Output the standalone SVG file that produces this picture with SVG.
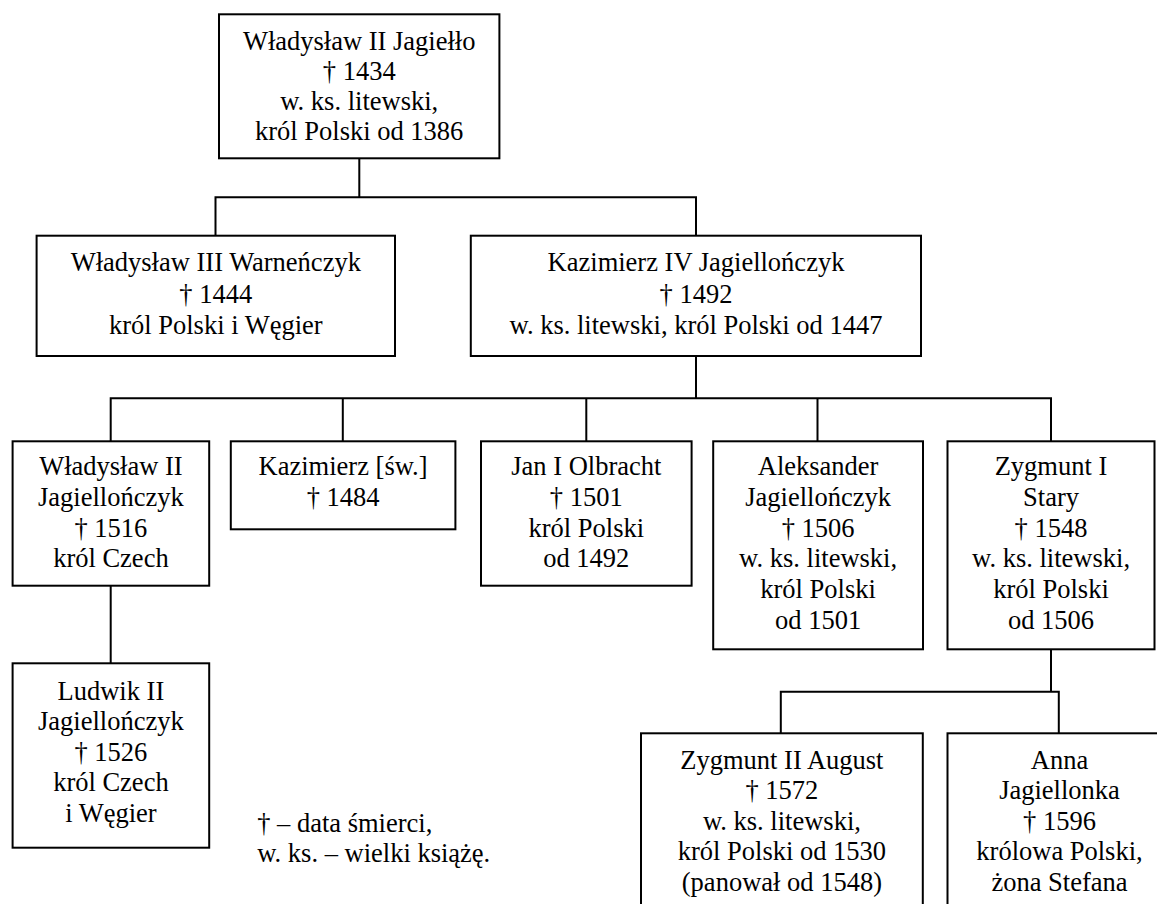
<svg xmlns="http://www.w3.org/2000/svg" width="1157" height="904" viewBox="0 0 1157 904">
<style>
.box{fill:#fff;stroke:#000;stroke-width:2}
.ln{fill:none;stroke:#000;stroke-width:2}
text{font-family:"Liberation Serif","Times New Roman",serif;font-size:26.5px;fill:#000;text-anchor:middle}
.lg{text-anchor:start}
</style>
<rect width="1157" height="904" fill="#fff"/>
<g id="connectors">
<path class="ln" d="M359.3,158.3V197.3M215.5,235.7V197.3H696V235.7"/>
<path class="ln" d="M696,356V398.3M110.7,441.3V398.3H1051V441.3M342.8,398.3V441.3M586.3,398.3V441.3M817.5,398.3V441.3"/>
<path class="ln" d="M110.7,585.7V663.3"/>
<path class="ln" d="M1051,649.3V691.7M780.8,733.3V691.7H1058.8V733.3"/>
</g>
<g id="n-jagiello">
<rect class="box" x="219" y="14.3" width="280.4" height="144"/>
<text x="359.2" y="50">Władysław II Jagiełło</text>
<text x="359.2" y="80">† 1434</text>
<text x="359.2" y="110">w. ks. litewski,</text>
<text x="359.2" y="140">król Polski od 1386</text>
</g>
<g id="n-warnenczyk">
<rect class="box" x="36.6" y="235.7" width="358.4" height="120.3"/>
<text x="215.8" y="270.7">Władysław III Warneńczyk</text>
<text x="215.8" y="302.5">† 1444</text>
<text x="215.8" y="334">król Polski i Węgier</text>
</g>
<g id="n-kazimierz4">
<rect class="box" x="470.8" y="235.7" width="450.2" height="120.3"/>
<text x="696" y="270.7">Kazimierz IV Jagiellończyk</text>
<text x="696" y="302.5">† 1492</text>
<text x="696" y="334">w. ks. litewski, król Polski od 1447</text>
</g>
<g id="n-wladyslaw2j">
<rect class="box" x="12.6" y="441.3" width="196.6" height="144.4"/>
<text x="110.9" y="475">Władysław II</text>
<text x="110.9" y="505.8">Jagiellończyk</text>
<text x="110.9" y="536.6">† 1516</text>
<text x="110.9" y="567.4">król Czech</text>
</g>
<g id="n-kazimierz-sw">
<rect class="box" x="230.8" y="441.3" width="224.6" height="88"/>
<text x="343.1" y="475">Kazimierz [św.]</text>
<text x="343.1" y="505.8">† 1484</text>
</g>
<g id="n-jan-olbracht">
<rect class="box" x="481" y="441.3" width="210.6" height="144.4"/>
<text x="586.3" y="475">Jan I Olbracht</text>
<text x="586.3" y="505.8">† 1501</text>
<text x="586.3" y="536.6">król Polski</text>
<text x="586.3" y="567.4">od 1492</text>
</g>
<g id="n-aleksander">
<rect class="box" x="713.2" y="441.3" width="209.8" height="208"/>
<text x="818.1" y="475">Aleksander</text>
<text x="818.1" y="505.8">Jagiellończyk</text>
<text x="818.1" y="536.6">† 1506</text>
<text x="818.1" y="567.4">w. ks. litewski,</text>
<text x="818.1" y="598.2">król Polski</text>
<text x="818.1" y="629">od 1501</text>
</g>
<g id="n-zygmunt1">
<rect class="box" x="947.5" y="441.3" width="207" height="208"/>
<text x="1051" y="475">Zygmunt I</text>
<text x="1051" y="505.8">Stary</text>
<text x="1051" y="536.6">† 1548</text>
<text x="1051" y="567.4">w. ks. litewski,</text>
<text x="1051" y="598.2">król Polski</text>
<text x="1051" y="629">od 1506</text>
</g>
<g id="n-ludwik">
<rect class="box" x="12.6" y="663.3" width="196.6" height="184.4"/>
<text x="110.9" y="699.5">Ludwik II</text>
<text x="110.9" y="730">Jagiellończyk</text>
<text x="110.9" y="760.5">† 1526</text>
<text x="110.9" y="791">król Czech</text>
<text x="110.9" y="821.5">i Węgier</text>
</g>
<g id="n-zygmunt2">
<rect class="box" x="641" y="733.3" width="281.8" height="200"/>
<text x="781.9" y="768.5">Zygmunt II August</text>
<text x="781.9" y="799">† 1572</text>
<text x="781.9" y="829.5">w. ks. litewski,</text>
<text x="781.9" y="860">król Polski od 1530</text>
<text x="781.9" y="890.5">(panował od 1548)</text>
</g>
<g id="n-anna">
<rect class="box" x="947.5" y="733.3" width="224" height="200"/>
<text x="1059.5" y="768.5">Anna</text>
<text x="1059.5" y="799">Jagiellonka</text>
<text x="1059.5" y="829.5">† 1596</text>
<text x="1059.5" y="860">królowa Polski,</text>
<text x="1059.5" y="890.5">żona Stefana</text>
</g>
<g id="legend">
<text class="lg" x="257.2" y="831.7">† – data śmierci,</text>
<text class="lg" x="257.2" y="861.7">w. ks. – wielki książę.</text>
</g>
</svg>
